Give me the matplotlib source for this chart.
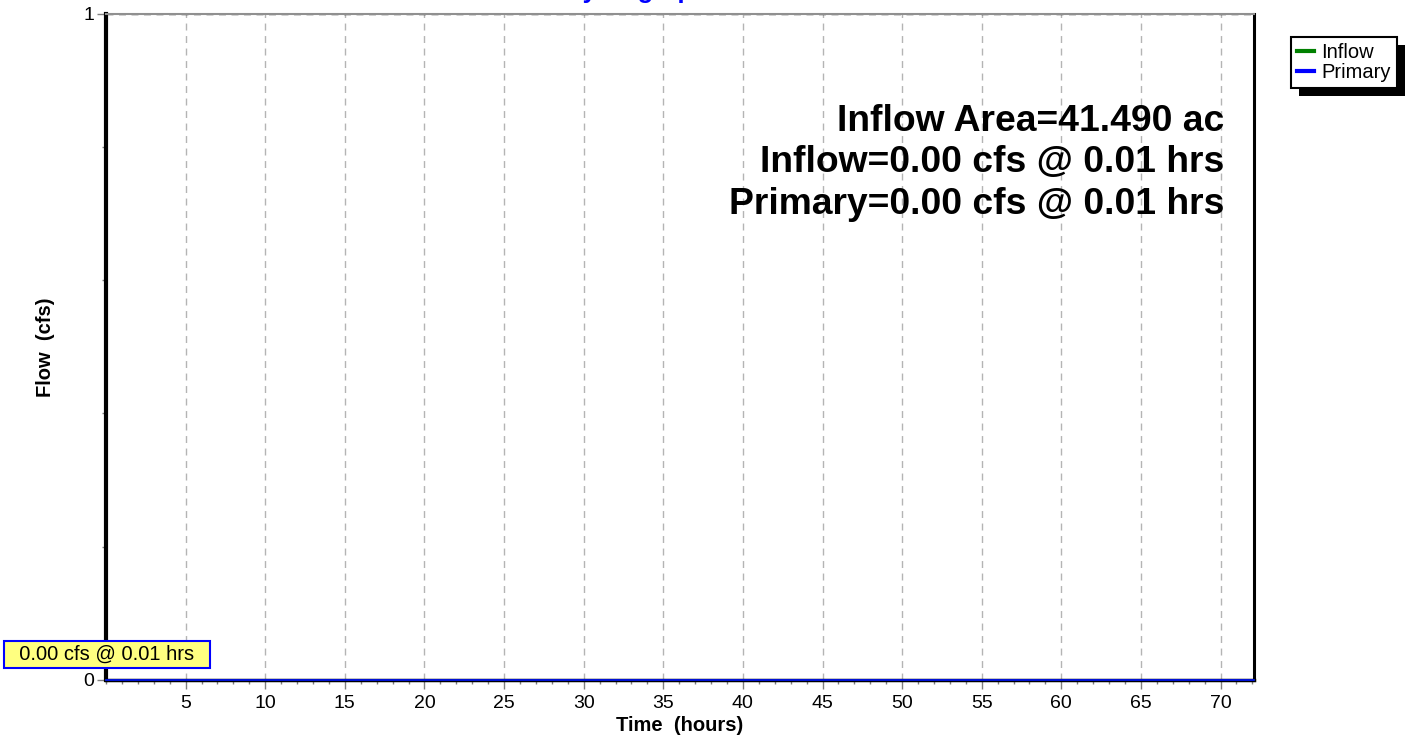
#!/usr/bin/env python3
"""Pond hydrograph: inflow and primary outflow vs time."""

import matplotlib
matplotlib.use('Agg')
import matplotlib.pyplot as plt
from matplotlib.ticker import MultipleLocator
from matplotlib.patches import Rectangle
from matplotlib.transforms import offset_copy

# hydrograph data (flat, no runoff)
time_hrs = [0.00, 0.01, 72.10]
inflow_cfs = [0.00, 0.00, 0.00]
primary_cfs = [0.00, 0.00, 0.00]

series_names = ['Inflow', 'Primary']
series_colors = ['green', 'blue']

inflow_area_ac = 41.490
peak_inflow_cfs = 0.00
peak_inflow_hrs = 0.01
peak_primary_cfs = 0.00
peak_primary_hrs = 0.01

x_major_ticks = [5, 10, 15, 20, 25, 30, 35, 40, 45, 50, 55, 60, 65, 70]
y_major_ticks = [0, 1]

plt.rcParams['font.family'] = ['Liberation Sans', 'DejaVu Sans']

W, H = 1411, 740
fig = plt.figure(figsize=(W / 100, H / 100), dpi=100)
ax = fig.add_axes([106 / W, 60 / H, (1254 - 106) / W, (680 - 13.5) / H])

ax.plot(time_hrs, inflow_cfs, color=series_colors[0], lw=1.2, label=series_names[0],
        zorder=3, clip_on=False)
ax.plot(time_hrs, primary_cfs, color=series_colors[1], lw=1.2, label=series_names[1],
        zorder=3, clip_on=False)

ax.set_xlim(0, 72.1)
ax.set_ylim(0, 1)
ax.set_xticks(x_major_ticks)
ax.set_yticks(y_major_ticks)
ax.xaxis.set_minor_locator(MultipleLocator(1))
ax.yaxis.set_minor_locator(MultipleLocator(0.2))
ax.tick_params(which='major', length=6.5, width=1, color='#808080', labelsize=14, pad=4)
ax.tick_params(which='minor', length=3, width=1, color='#808080')
ax.tick_params(axis='y', which='major', pad=2)

ax.grid(axis='x', which='major', color='#b4b4b4', lw=1, linestyle=(0, (5, 4)))
ax.grid(axis='y', which='major', color='#202020', lw=1, linestyle=(0, (5, 4)))

ax.spines['left'].set_linewidth(3)
ax.spines['bottom'].set_linewidth(2.5)
ax.spines['right'].set_linewidth(2.2)
ax.spines['top'].set_color('#909090')
ax.spines['top'].set_linewidth(1.5)

ax.set_xlabel('Time  (hours)', fontsize=14.5, fontweight='bold')
ax.set_ylabel('Flow  (cfs)', fontsize=14.5, fontweight='bold')
ax.xaxis.set_label_coords(0.5, -0.0545)
ax.yaxis.set_label_coords(-0.0444, 0.5)

fig.text(637 / W, 1 + 2.4 / H, 'Hydrograph', color='blue', fontsize=18.4,
         fontweight='bold', ha='center', va='baseline')

# summary text, upper right
summary = [
    f'Inflow Area={inflow_area_ac:.3f} ac',
    f'Inflow={peak_inflow_cfs:.2f} cfs @ {peak_inflow_hrs:.2f} hrs',
    f'Primary={peak_primary_cfs:.2f} cfs @ {peak_primary_hrs:.2f} hrs',
]
base = (680 - 130.7) / 666.5
for i, line in enumerate(summary):
    tr = offset_copy(ax.transAxes, fig=fig, x=0, y=-41.7 * i, units='dots')
    ax.text((1224 - 106) / 1148, base, line, transform=tr, fontsize=26.8,
            fontweight='bold', ha='right', va='baseline')

# peak label
ax.annotate(f'  {peak_primary_cfs:.2f} cfs @ {peak_primary_hrs:.2f} hrs  ',
            xy=(peak_primary_hrs, peak_primary_cfs), xycoords='data',
            xytext=(-98, 20), textcoords='offset pixels',
            fontsize=14.5, ha='left', va='baseline', annotation_clip=False,
            bbox=dict(boxstyle='square,pad=0.2', facecolor='#FFFF80',
                      edgecolor='blue', lw=1.5))

leg = fig.legend(loc='upper left', bbox_to_anchor=(1291 / W, 1 - 37 / H),
                 borderaxespad=0, fontsize=14.5, frameon=True, fancybox=False,
                 borderpad=0.3, labelspacing=0.05, handlelength=0.85,
                 handletextpad=0.35)
leg.get_frame().set_edgecolor('black')
leg.get_frame().set_linewidth(1.5)
leg.get_frame().set_alpha(1)
for ln in leg.get_lines():
    ln.set_linewidth(3)

# drop shadow behind the legend box
fig.canvas.draw()
bb = leg.get_window_extent()
x0, y0 = fig.transFigure.inverted().transform((bb.x0 + 8, bb.y0 - 8))
x1, y1 = fig.transFigure.inverted().transform((bb.x1 + 8, bb.y1 - 8))
fig.patches.append(Rectangle((x0, y0), x1 - x0, y1 - y0, transform=fig.transFigure,
                             facecolor='black', edgecolor='none', zorder=4))

fig.savefig('out.png', dpi=100)
